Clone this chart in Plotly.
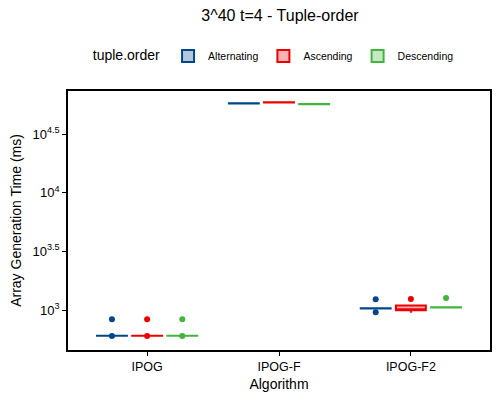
import plotly.graph_objects as go

algorithms = ["IPOG", "IPOG-F", "IPOG-F2"]
orders = ["Alternating", "Ascending", "Descending"]
colors = {"Alternating": "#00468B", "Ascending": "#ED0000", "Descending": "#42B540"}
fills = {"Alternating": "rgba(0,70,139,0.3)", "Ascending": "rgba(237,0,0,0.3)",
         "Descending": "rgba(66,181,64,0.3)"}

# generation times (ms) per run
times = {
    "Alternating": {
        "IPOG": [600, 603.5, 604, 604, 604.5, 833],
        "IPOG-F": [57600, 57700, 57800, 57900, 58000],
        "IPOG-F2": [955, 1030, 1033, 1034, 1035, 1038, 1233],
    },
    "Ascending": {
        "IPOG": [600, 603.5, 604, 604, 604.5, 833],
        "IPOG-F": [58700, 58800, 58900, 59000, 59100],
        "IPOG-F2": [948, 995, 1005, 1010, 1085, 1095, 1241],
    },
    "Descending": {
        "IPOG": [600, 603.5, 604, 604, 604.5, 833],
        "IPOG-F": [56800, 56900, 57000, 57100, 57200],
        "IPOG-F2": [1050, 1052, 1054, 1054, 1056, 1263],
    },
}

y_ticks = [1000, 3162.28, 10000, 31622.8]
y_tick_text = ["10<sup>3</sup>", "10<sup>3.5</sup>", "10<sup>4</sup>", "10<sup>4.5</sup>"]

fig = go.Figure()
for order in orders:
    xs, ys = [], []
    for alg in algorithms:
        xs += [alg] * len(times[order][alg])
        ys += times[order][alg]
    fig.add_trace(go.Box(
        x=xs, y=ys, name=order,
        marker=dict(color=colors[order], size=6),
        line=dict(color=colors[order], width=2),
        fillcolor=fills[order],
        boxpoints="outliers",
        whiskerwidth=0,
    ))

# page has an 8px body margin, so the figure is 8px smaller and shifted
fig.update_layout(
    width=492, height=392,
    margin=dict(l=60, r=10, t=83, b=50, autoexpand=False),
    boxmode="group", boxgap=0.2, boxgroupgap=0.15,
    plot_bgcolor="white", paper_bgcolor="white",
    font=dict(family="Liberation Sans, Arial, sans-serif", color="black", size=12),
    title=dict(text="3^40 t=4 - Tuple-order", x=272 / 492, xanchor="center",
               y=1 - 7 / 392, yanchor="middle", font=dict(size=16)),
    legend=dict(orientation="h", x=0.49, xanchor="center", y=1.135, yanchor="middle",
                title=dict(text="tuple.order", font=dict(size=14, color="black")),
                font=dict(size=10.5), itemwidth=30, tracegroupgap=0),
    xaxis=dict(title=dict(text="Algorithm", standoff=6), showline=True, mirror=True,
               range=[-0.6, 2.6],
               linecolor="black", linewidth=1.5, ticks="outside", ticklen=4,
               tickcolor="black", showgrid=False, automargin=False,
               tickfont=dict(size=12.5)),
    yaxis=dict(title=dict(text="Array Generation Time (ms)", standoff=18), type="log",
               range=[2.659, 4.867], tickvals=y_ticks, ticktext=y_tick_text,
               showline=True, mirror=True, linecolor="black", linewidth=1.5,
               ticks="outside", ticklen=4, tickcolor="black", showgrid=False,
               zeroline=False, automargin=False, tickfont=dict(size=13)),
)

fig.write_html("out.html")
